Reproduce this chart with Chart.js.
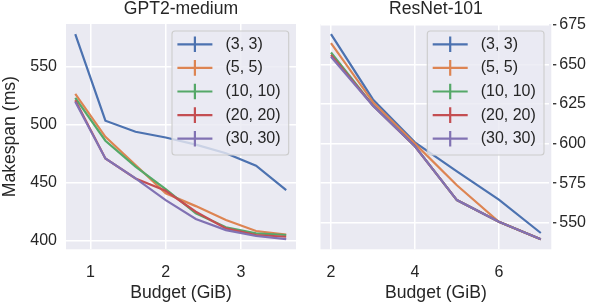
<!DOCTYPE html>
<html><head><meta charset="utf-8">
<script src="https://cdn.jsdelivr.net/npm/chart.js@4"></script>
<style>
html,body{margin:0;padding:0;background:#fff;}
#wrap{position:relative;width:594px;height:304px;overflow:hidden;background:#fff;}
canvas{position:absolute;left:0;top:0;}
</style></head><body>
<div id="wrap"><canvas id="c1" width="594" height="304"></canvas><canvas id="c2" width="594" height="304"></canvas></div>
<script>
// ---- data ----
const seriesLabels = ['(3, 3)', '(5, 5)', '(10, 10)', '(20, 20)', '(30, 30)'];
const seriesColors = ['#4C72B0', '#DD8452', '#55A868', '#C44E52', '#8172B3'];

const gptTitle = 'GPT2-medium';
const gptBudget = [0.8, 1.2, 1.6, 2.0, 2.4, 2.8, 3.2, 3.6];
const gpt_3_3   = [577.8, 503.4, 493.9, 489.0, 482.8, 475.5, 464.7, 443.8];
const gpt_5_5   = [526.5, 489.6, 465.3, 441.0, 430.0, 418.0, 408.6, 405.6];
const gpt_10_10 = [523.0, 486.2, 463.9, 444.7, 423.8, 411.8, 406.6, 405.2];
const gpt_20_20 = [521.0, 471.0, 453.8, 443.2, 425.2, 410.9, 405.2, 403.7];
const gpt_30_30 = [519.7, 471.0, 453.8, 435.2, 418.9, 409.4, 404.3, 401.7];
const gptXTicks = [1, 2, 3];
const gptYTicks = [400, 450, 500, 550];

const resTitle = 'ResNet-101';
const resBudget = [2, 3, 4, 5, 6, 7];
const res_3_3   = [669.2, 627.9, 600.8, 582.5, 564.6, 543.5];
const res_5_5   = [663.5, 626.2, 600.0, 573.7, 550.6, 539.5];
const res_10_10 = [657.6, 624.2, 598.4, 564.3, 550.6, 539.5];
const res_20_20 = [656.0, 624.1, 598.3, 564.3, 550.6, 539.5];
const res_30_30 = [654.9, 624.0, 598.3, 564.3, 550.6, 539.5];
const resXTicks = [2, 4, 6];
const resYTicks = [550, 575, 600, 625, 650, 675];

const xLabel = 'Budget (GiB)';
const yLabel = 'Makespan (ms)';

// ---- styling ----
const FAM = '"Liberation Sans", Arial, Helvetica, sans-serif';
const TXT = '#262626';
const tickFont = {family: FAM, size: 16};
const labelFont = {family: FAM, size: 17.6, weight: 'normal'};

function makeDatasets(xs, series) {
  return series.map((ys, i) => ({
    label: seriesLabels[i],
    data: xs.map((x, k) => ({x: x, y: ys[k]})),
    borderColor: seriesColors[i],
    backgroundColor: seriesColors[i],
    borderWidth: 2.2,
    pointRadius: 0,
    pointHoverRadius: 0,
    tension: 0,
    fill: false,
    order: series.length - i
  }));
}

const bgPlugin = {
  id: 'bgArea',
  beforeDraw(chart) {
    const {ctx, chartArea: a} = chart;
    ctx.save();
    ctx.fillStyle = '#EAEAF2';
    ctx.fillRect(a.left, a.top, a.right - a.left, a.bottom - a.top);
    ctx.restore();
  }
};

function roundRect(ctx, x, y, w, h, r) {
  ctx.beginPath();
  ctx.moveTo(x + r, y);
  ctx.lineTo(x + w - r, y);
  ctx.arcTo(x + w, y, x + w, y + r, r);
  ctx.lineTo(x + w, y + h - r);
  ctx.arcTo(x + w, y + h, x + w - r, y + h, r);
  ctx.lineTo(x + r, y + h);
  ctx.arcTo(x, y + h, x, y + h - r, r);
  ctx.lineTo(x, y + r);
  ctx.arcTo(x, y, x + r, y, r);
  ctx.closePath();
}

const legendPlugin = {
  id: 'mplLegend',
  afterDraw(chart) {
    const {ctx, chartArea: a} = chart;
    const left = a.right - 124, top = a.top + 7, w = 116.7, h = 124;
    ctx.save();
    roundRect(ctx, left, top, w, h, 3);
    ctx.fillStyle = 'rgba(234,234,242,0.8)';
    ctx.fill();
    ctx.strokeStyle = '#CCCCCC';
    ctx.lineWidth = 1.1;
    ctx.stroke();
    const dsets = chart.data.datasets;
    ctx.font = '16px ' + FAM;
    ctx.textBaseline = 'middle';
    ctx.textAlign = 'left';
    dsets.forEach((ds, i) => {
      const y = top + 13.3 + i * 23.6;
      ctx.strokeStyle = ds.borderColor;
      ctx.lineWidth = 2.2;
      ctx.beginPath();
      ctx.moveTo(left + 5.4, y);
      ctx.lineTo(left + 40.4, y);
      ctx.moveTo(left + 22.9, y - 7.8);
      ctx.lineTo(left + 22.9, y + 7.8);
      ctx.stroke();
      ctx.fillStyle = TXT;
      ctx.fillText(ds.label, left + 53.4, y);
    });
    ctx.restore();
  }
};

function tickSetter(arr) {
  return function(scale) { scale.ticks = arr.map(v => ({value: v})); };
}

function makeChart(id, cfg) {
  return new Chart(document.getElementById(id), {
    type: 'line',
    data: {datasets: cfg.datasets},
    plugins: [bgPlugin, legendPlugin],
    options: {
      responsive: false,
      animation: false,
      devicePixelRatio: 1,
      layout: {padding: cfg.padding},
      plugins: {
        legend: {display: false},
        tooltip: {enabled: false},
        title: {
          display: true, text: cfg.title, color: TXT, fullSize: false,
          font: {family: FAM, size: 17.6, weight: 'normal', lineHeight: 1},
          padding: {top: 0.4, bottom: 6}
        }
      },
      scales: {
        x: {
          type: 'linear', position: 'bottom', min: cfg.xMin, max: cfg.xMax,
          afterBuildTicks: tickSetter(cfg.xTicks),
          afterFit(s) { s.height = 54.7; },
          ticks: {font: tickFont, color: TXT, padding: 14, maxRotation: 0, autoSkip: false, callback: v => String(v)},
          grid: {color: '#ffffff', lineWidth: 1.5, drawTicks: false},
          border: {display: false},
          title: {display: true, text: xLabel, color: TXT, font: labelFont, padding: {top: 0, bottom: 0.3}}
        },
        y: cfg.y
      }
    }
  });
}

makeChart('c1', {
  title: gptTitle,
  datasets: makeDatasets(gptBudget, [gpt_3_3, gpt_5_5, gpt_10_10, gpt_20_20, gpt_30_30]),
  padding: {left: 0, right: 298, top: 0, bottom: 0},
  xMin: 0.677, xMax: 3.73, xTicks: gptXTicks,
  y: {
    type: 'linear', position: 'left', min: 392.9, max: 586.5,
    afterBuildTicks: tickSetter(gptYTicks),
    afterFit(s) { s.width = 66; },
    ticks: {font: tickFont, color: TXT, padding: 9, autoSkip: false, callback: v => String(v)},
    grid: {color: '#ffffff', lineWidth: 1.5, drawTicks: false},
    border: {display: false},
    title: {display: true, text: yLabel, color: TXT, font: labelFont, padding: {top: 0, bottom: 0}}
  }
});

makeChart('c2', {
  title: resTitle,
  datasets: makeDatasets(resBudget, [res_3_3, res_5_5, res_10_10, res_20_20, res_30_30]),
  padding: {left: 320.5, right: 0, top: 0, bottom: 0},
  xMin: 1.75, xMax: 7.25, xTicks: resXTicks,
  y: {
    type: 'linear', position: 'right', min: 533.2, max: 675.6,
    afterBuildTicks: tickSetter(resYTicks),
    afterFit(s) { s.width = 42.7; },
    ticks: {font: tickFont, color: TXT, padding: 3, autoSkip: false, callback: v => String(v)},
    grid: {color: '#ffffff', lineWidth: 1.5, drawTicks: true, tickLength: 5, tickColor: '#262626', tickWidth: 1.3},
    border: {display: true, width: 4, color: 'rgba(0,0,0,0)'}
  }
});
</script>
</body></html>
